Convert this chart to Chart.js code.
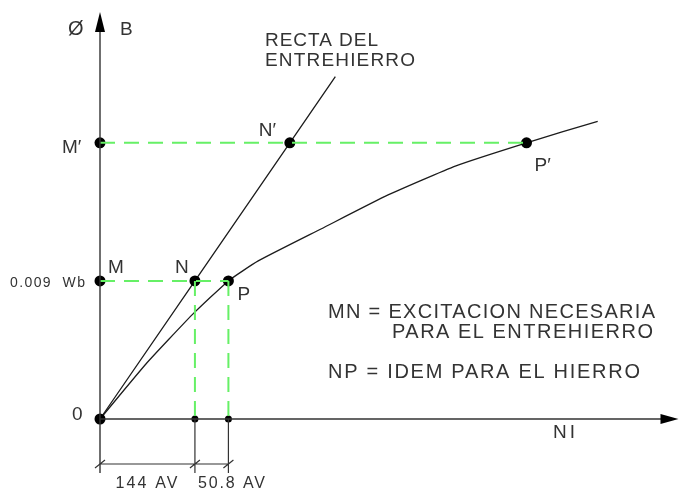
<!DOCTYPE html>
<html>
<head>
<meta charset="utf-8">
<script src="https://cdn.jsdelivr.net/npm/chart.js@4/dist/chart.umd.min.js"></script>
<style>
  html, body { margin: 0; padding: 0; background: #fff; }
  canvas { display: block; }
</style>
</head>
<body>
<canvas id="c" width="680" height="489"></canvas>
<script>
// Ampere-turns (AV) and flux (Wb) of the construction
const NI_N = 144;           // excitation for the air gap, O -> N
const NI_NP = 50.8;         // extra excitation for the iron, N -> P
const NI_P = NI_N + NI_NP;
const NI_N2 = 288;          // N' on the air-gap line
const NI_P2 = 647;          // P' on the magnetization curve
const FLUX_M = 0.009;       // M
const FLUX_M2 = 0.018;      // M'

// Magnetization curve of the iron circuit
const curveNI = [0, 70, 140, NI_P, 240, 336, 437, 540, NI_P2, 755];
const curveFlux = [0, 0.0036, 0.0068, FLUX_M, 0.0103, 0.0124, 0.0146, 0.0165, FLUX_M2, 0.0194];

// Air-gap line (straight through the origin)
const gapNI = [0, NI_N, NI_N2, 357];
const gapFlux = [0, FLUX_M, FLUX_M2, 0.0223125];

// Marked points: O, M, M', N, N', P, P'
const markNI = [0, 0, 0, NI_N, NI_N2, NI_P, NI_P2];
const markFlux = [0, FLUX_M, FLUX_M2, FLUX_M, FLUX_M2, FLUX_M, FLUX_M2];

// Foot points of the projections on the NI axis
const footNI = [NI_N, NI_P];
const footFlux = [0, 0];

const zip = (xs, ys) => xs.map((x, i) => ({ x, y: ys[i] }));

const INK = '#1c1c1c';
const TEXT = '#333';
const GREEN = '#66f066';
const FONT = '"Liberation Sans", "DejaVu Sans", sans-serif';

const guide = (pts) => ({
  data: pts, showLine: true, borderColor: GREEN, borderWidth: 2,
  borderDash: [15, 9], pointRadius: 0, order: 0, clip: false
});

function fitText(ctx, str, x, y, size, width) {
  ctx.font = size + 'px ' + FONT;
  ctx.letterSpacing = '0px';
  if (width && str.length > 1) {
    const natural = ctx.measureText(str).width;
    ctx.letterSpacing = ((width - natural) / (str.length - 1)) + 'px';
  }
  ctx.fillText(str, x, y);
  ctx.letterSpacing = '0px';
}

const annotations = {
  id: 'annotations',
  afterDraw(chart) {
    const { ctx, chartArea: a, scales: { x, y } } = chart;
    const X = v => x.getPixelForValue(v);
    const Y = v => y.getPixelForValue(v);
    const ox = X(0), oy = Y(0);
    ctx.save();

    // axes with arrow heads
    ctx.strokeStyle = '#333';
    ctx.fillStyle = '#000';
    ctx.lineWidth = 1.4;
    ctx.beginPath();
    ctx.moveTo(ox, a.top + 8);
    ctx.lineTo(ox, oy + 54);
    ctx.moveTo(ox, oy);
    ctx.lineTo(a.right - 10, oy);
    ctx.stroke();
    ctx.beginPath();
    ctx.moveTo(ox, a.top - 8);
    ctx.lineTo(ox - 5, a.top + 12);
    ctx.lineTo(ox + 5, a.top + 12);
    ctx.closePath();
    ctx.fill();
    ctx.beginPath();
    ctx.moveTo(a.right + 4, oy);
    ctx.lineTo(a.right - 14, oy - 5);
    ctx.lineTo(a.right - 14, oy + 5);
    ctx.closePath();
    ctx.fill();

    // dimension line for the excitations
    const dimY = oy + 45;
    ctx.strokeStyle = '#333';
    ctx.lineWidth = 1.2;
    ctx.beginPath();
    [NI_N, NI_P].forEach(v => { ctx.moveTo(X(v), oy); ctx.lineTo(X(v), oy + 54); });
    ctx.moveTo(ox, dimY);
    ctx.lineTo(X(NI_P), dimY);
    [0, NI_N, NI_P].forEach(v => { ctx.moveTo(X(v) - 5, dimY + 4); ctx.lineTo(X(v) + 5, dimY - 4); });
    ctx.stroke();

    ctx.fillStyle = TEXT;
    ctx.textBaseline = 'alphabetic';
    ctx.textAlign = 'left';

    // axis names
    fitText(ctx, 'Ø', ox - 32, a.top + 15, 20);
    fitText(ctx, 'B', ox + 20, a.top + 15, 19);
    fitText(ctx, 'NI', 553, oy + 19, 19, 22);
    fitText(ctx, '0', ox - 28, oy + 1, 19);

    // point names
    fitText(ctx, 'M', ox + 8, Y(FLUX_M) - 8, 19);
    fitText(ctx, 'M′', ox - 38, Y(FLUX_M2) + 10, 19);
    fitText(ctx, 'N', X(NI_N) - 20, Y(FLUX_M) - 8, 19);
    fitText(ctx, 'N′', X(NI_N2) - 31, Y(FLUX_M2) - 7, 19);
    fitText(ctx, 'P', X(NI_P) + 9, Y(FLUX_M) + 19, 19);
    fitText(ctx, 'P′', X(NI_P2) + 8, Y(FLUX_M2) + 28, 19);
    fitText(ctx, FLUX_M + '  Wb', 10, Y(FLUX_M) + 6, 14, 75);

    // air-gap line caption
    fitText(ctx, 'RECTA DEL', 265, 46, 19, 113);
    fitText(ctx, 'ENTREHIERRO', 265, 66, 19, 150);

    // legend text
    fitText(ctx, 'MN = EXCITACION NECESARIA', 328, 318, 20, 327);
    fitText(ctx, 'PARA EL ENTREHIERRO', 392, 338, 20, 261);
    fitText(ctx, 'NP = IDEM PARA EL HIERRO', 328, 378, 20, 312);

    // dimension values
    fitText(ctx, NI_N + ' AV', (ox + X(NI_N)) / 2 - 32, oy + 69, 16, 62);
    fitText(ctx, NI_NP + ' AV', X(NI_N) + 3, oy + 69, 16, 67);

    ctx.restore();
  }
};

new Chart(document.getElementById('c'), {
  type: 'scatter',
  data: {
    datasets: [
      guide([{ x: 0, y: FLUX_M }, { x: NI_P, y: FLUX_M }]),
      guide([{ x: 0, y: FLUX_M2 }, { x: NI_P2, y: FLUX_M2 }]),
      guide([{ x: NI_N, y: FLUX_M }, { x: NI_N, y: 0 }]),
      guide([{ x: NI_P, y: FLUX_M }, { x: NI_P, y: 0 }]),
      {
        data: zip(markNI, markFlux), pointRadius: 5.5, pointBackgroundColor: '#000',
        pointBorderColor: '#000', pointBorderWidth: 0, showLine: false, order: 1, clip: false
      },
      {
        data: zip(footNI, footFlux), pointRadius: 3.5, pointBackgroundColor: '#000',
        pointBorderColor: '#000', pointBorderWidth: 0, showLine: false, order: 1, clip: false
      },
      {
        data: zip(curveNI, curveFlux), showLine: true, borderColor: INK, borderWidth: 1.3,
        pointRadius: 0, tension: 0.15, order: 2, clip: false
      },
      {
        data: zip(gapNI, gapFlux), showLine: true, borderColor: INK, borderWidth: 1.3,
        pointRadius: 0, order: 2, clip: false
      }
    ]
  },
  options: {
    responsive: false,
    animation: false,
    events: [],
    layout: { padding: { left: 100, right: 5, top: 20, bottom: 70 } },
    plugins: { legend: { display: false }, tooltip: { enabled: false } },
    scales: {
      x: { type: 'linear', min: 0, max: 871.5, display: false },
      y: { type: 'linear', min: 0, max: 0.026, display: false }
    }
  },
  plugins: [annotations]
});
</script>
</body>
</html>
